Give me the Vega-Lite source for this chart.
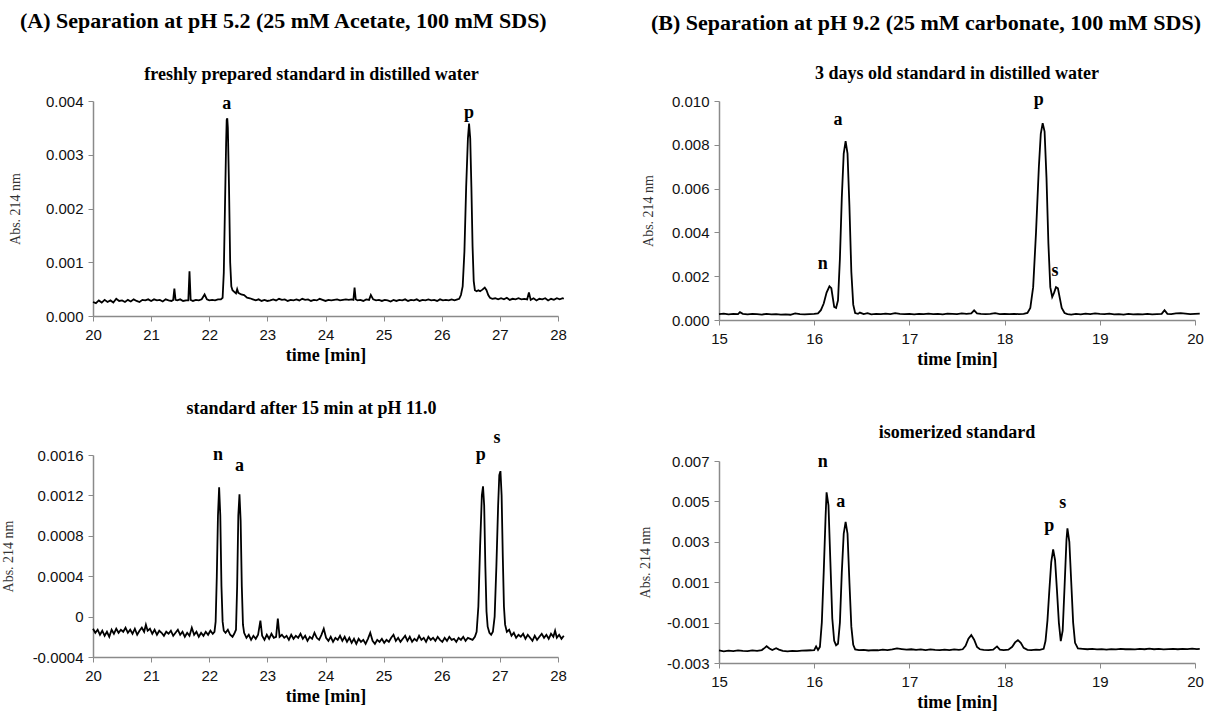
{
"$schema": "https://vega.github.io/schema/vega-lite/v6.json",
"background": "white",
"padding": {"left": 1, "top": 10, "right": 0, "bottom": 0},
"config": {
 "view": {"stroke": null},
 "axis": {"grid": false, "domainColor": "#8a8a8a", "domainWidth": 1.5, "tickColor": "#8a8a8a", "tickSize": 5, "labelFont": "Liberation Sans", "labelFontSize": 15, "labelColor": "#111"},
 "axisX": {"titleFont": "Liberation Serif", "titleFontWeight": "bold", "titleFontSize": 18, "titleColor": "#000", "labelPadding": 6, "titlePadding": 4, "labelFlush": false},
 "axisY": {"titleFont": "Liberation Serif", "titleFontWeight": "normal", "titleFontSize": 14, "titleColor": "#333", "labelPadding": 5},
 "title": {"font": "Liberation Serif", "fontWeight": "bold", "color": "#000"}
},
"datasets": {
 "a1": [
  {"t":20.00,"v":0.00026},{"t":20.05,"v":0.00024},{"t":20.10,"v":0.00029},{"t":20.15,"v":0.00025},{"t":20.20,"v":0.00030},{"t":20.25,"v":0.00026},{"t":20.30,"v":0.00029},{"t":20.35,"v":0.00025},{"t":20.40,"v":0.00032},{"t":20.45,"v":0.00028},{"t":20.50,"v":0.00029},{"t":20.55,"v":0.00026},{"t":20.60,"v":0.00030},{"t":20.65,"v":0.00027},{"t":20.70,"v":0.00031},{"t":20.75,"v":0.00028},{"t":20.80,"v":0.00026},{"t":20.85,"v":0.00030},{"t":20.90,"v":0.00029},{"t":20.95,"v":0.00031},{"t":21.00,"v":0.00028},{"t":21.05,"v":0.00031},{"t":21.10,"v":0.00029},{"t":21.15,"v":0.00030},{"t":21.20,"v":0.00027},{"t":21.25,"v":0.00031},{"t":21.30,"v":0.00029},{"t":21.35,"v":0.00028},{"t":21.38,"v":0.00030},{"t":21.40,"v":0.00051},{"t":21.42,"v":0.00030},{"t":21.45,"v":0.00029},{"t":21.50,"v":0.00031},{"t":21.55,"v":0.00028},{"t":21.60,"v":0.00029},{"t":21.64,"v":0.00029},{"t":21.66,"v":0.00083},{"t":21.68,"v":0.00030},{"t":21.72,"v":0.00028},{"t":21.77,"v":0.00030},{"t":21.82,"v":0.00029},{"t":21.87,"v":0.00031},{"t":21.92,"v":0.00040},{"t":21.96,"v":0.00031},{"t":22.00,"v":0.00029},{"t":22.05,"v":0.00030},{"t":22.10,"v":0.00029},{"t":22.15,"v":0.00031},{"t":22.20,"v":0.00031},{"t":22.23,"v":0.00034},{"t":22.25,"v":0.00080},{"t":22.27,"v":0.00200},{"t":22.29,"v":0.00320},{"t":22.30,"v":0.00365},{"t":22.31,"v":0.00368},{"t":22.32,"v":0.00350},{"t":22.34,"v":0.00240},{"t":22.36,"v":0.00100},{"t":22.38,"v":0.00055},{"t":22.40,"v":0.00048},{"t":22.43,"v":0.00045},{"t":22.46,"v":0.00042},{"t":22.48,"v":0.00050},{"t":22.50,"v":0.00043},{"t":22.55,"v":0.00040},{"t":22.60,"v":0.00039},{"t":22.65,"v":0.00034},{"t":22.70,"v":0.00033},{"t":22.75,"v":0.00031},{"t":22.80,"v":0.00029},{"t":22.85,"v":0.00031},{"t":22.90,"v":0.00028},{"t":22.95,"v":0.00030},{"t":23.00,"v":0.00028},{"t":23.05,"v":0.00029},{"t":23.10,"v":0.00031},{"t":23.15,"v":0.00029},{"t":23.20,"v":0.00032},{"t":23.25,"v":0.00030},{"t":23.30,"v":0.00031},{"t":23.35,"v":0.00028},{"t":23.40,"v":0.00030},{"t":23.45,"v":0.00029},{"t":23.50,"v":0.00031},{"t":23.55,"v":0.00029},{"t":23.60,"v":0.00032},{"t":23.65,"v":0.00030},{"t":23.70,"v":0.00031},{"t":23.75,"v":0.00028},{"t":23.80,"v":0.00030},{"t":23.85,"v":0.00029},{"t":23.90,"v":0.00032},{"t":23.95,"v":0.00030},{"t":24.00,"v":0.00028},{"t":24.05,"v":0.00030},{"t":24.10,"v":0.00029},{"t":24.15,"v":0.00030},{"t":24.20,"v":0.00031},{"t":24.25,"v":0.00029},{"t":24.30,"v":0.00030},{"t":24.35,"v":0.00031},{"t":24.40,"v":0.00030},{"t":24.45,"v":0.00031},{"t":24.48,"v":0.00030},{"t":24.50,"v":0.00053},{"t":24.52,"v":0.00031},{"t":24.55,"v":0.00029},{"t":24.60,"v":0.00030},{"t":24.65,"v":0.00028},{"t":24.70,"v":0.00031},{"t":24.75,"v":0.00030},{"t":24.78,"v":0.00039},{"t":24.82,"v":0.00031},{"t":24.87,"v":0.00029},{"t":24.92,"v":0.00030},{"t":24.97,"v":0.00028},{"t":25.02,"v":0.00030},{"t":25.07,"v":0.00029},{"t":25.12,"v":0.00027},{"t":25.17,"v":0.00030},{"t":25.22,"v":0.00028},{"t":25.27,"v":0.00030},{"t":25.32,"v":0.00029},{"t":25.37,"v":0.00031},{"t":25.42,"v":0.00028},{"t":25.47,"v":0.00030},{"t":25.52,"v":0.00029},{"t":25.57,"v":0.00031},{"t":25.62,"v":0.00028},{"t":25.67,"v":0.00030},{"t":25.72,"v":0.00029},{"t":25.77,"v":0.00031},{"t":25.82,"v":0.00029},{"t":25.87,"v":0.00030},{"t":25.92,"v":0.00028},{"t":25.97,"v":0.00031},{"t":26.02,"v":0.00029},{"t":26.07,"v":0.00030},{"t":26.12,"v":0.00029},{"t":26.17,"v":0.00031},{"t":26.22,"v":0.00029},{"t":26.27,"v":0.00031},{"t":26.30,"v":0.00032},{"t":26.33,"v":0.00039},{"t":26.36,"v":0.00055},{"t":26.39,"v":0.00120},{"t":26.42,"v":0.00240},{"t":26.45,"v":0.00330},{"t":26.47,"v":0.00358},{"t":26.49,"v":0.00330},{"t":26.51,"v":0.00240},{"t":26.53,"v":0.00130},{"t":26.55,"v":0.00065},{"t":26.57,"v":0.00048},{"t":26.60,"v":0.00046},{"t":26.63,"v":0.00048},{"t":26.66,"v":0.00046},{"t":26.70,"v":0.00049},{"t":26.74,"v":0.00053},{"t":26.77,"v":0.00048},{"t":26.80,"v":0.00039},{"t":26.83,"v":0.00034},{"t":26.87,"v":0.00032},{"t":26.92,"v":0.00033},{"t":26.97,"v":0.00031},{"t":27.02,"v":0.00033},{"t":27.07,"v":0.00031},{"t":27.12,"v":0.00034},{"t":27.17,"v":0.00030},{"t":27.22,"v":0.00032},{"t":27.27,"v":0.00031},{"t":27.32,"v":0.00033},{"t":27.37,"v":0.00031},{"t":27.42,"v":0.00032},{"t":27.47,"v":0.00031},{"t":27.50,"v":0.00044},{"t":27.53,"v":0.00030},{"t":27.58,"v":0.00033},{"t":27.63,"v":0.00029},{"t":27.68,"v":0.00032},{"t":27.73,"v":0.00031},{"t":27.78,"v":0.00033},{"t":27.83,"v":0.00029},{"t":27.88,"v":0.00032},{"t":27.93,"v":0.00030},{"t":27.98,"v":0.00033},{"t":28.03,"v":0.00031},{"t":28.08,"v":0.00033},{"t":28.10,"v":0.00032}
 ],
 "a1lab": [{"t":22.30,"v":0.00394,"lab":"a"},{"t":26.47,"v":0.00378,"lab":"p"}],
 "a2": [
  {"t":20.00,"v":-0.00012},{"t":20.04,"v":-0.00016},{"t":20.08,"v":-0.00013},{"t":20.12,"v":-0.00018},{"t":20.16,"v":-0.00014},{"t":20.20,"v":-0.00019},{"t":20.24,"v":-0.00015},{"t":20.28,"v":-0.00020},{"t":20.32,"v":-0.00013},{"t":20.36,"v":-0.00017},{"t":20.40,"v":-0.00012},{"t":20.44,"v":-0.00016},{"t":20.48,"v":-0.00013},{"t":20.52,"v":-0.00015},{"t":20.56,"v":-0.00011},{"t":20.60,"v":-0.00016},{"t":20.64,"v":-0.00013},{"t":20.68,"v":-0.00017},{"t":20.72,"v":-0.00012},{"t":20.76,"v":-0.00018},{"t":20.80,"v":-0.00014},{"t":20.84,"v":-0.00011},{"t":20.88,"v":-0.00015},{"t":20.91,"v":-0.00008},{"t":20.94,"v":-0.00014},{"t":20.98,"v":-0.00012},{"t":21.02,"v":-0.00017},{"t":21.06,"v":-0.00013},{"t":21.10,"v":-0.00018},{"t":21.14,"v":-0.00014},{"t":21.18,"v":-0.00016},{"t":21.22,"v":-0.00019},{"t":21.26,"v":-0.00015},{"t":21.30,"v":-0.00017},{"t":21.34,"v":-0.00014},{"t":21.38,"v":-0.00019},{"t":21.42,"v":-0.00016},{"t":21.46,"v":-0.00013},{"t":21.50,"v":-0.00018},{"t":21.54,"v":-0.00015},{"t":21.58,"v":-0.00020},{"t":21.62,"v":-0.00016},{"t":21.66,"v":-0.00019},{"t":21.70,"v":-0.00011},{"t":21.74,"v":-0.00018},{"t":21.78,"v":-0.00015},{"t":21.82,"v":-0.00020},{"t":21.86,"v":-0.00016},{"t":21.90,"v":-0.00019},{"t":21.94,"v":-0.00015},{"t":21.98,"v":-0.00018},{"t":22.02,"v":-0.00014},{"t":22.06,"v":-0.00017},{"t":22.09,"v":-0.00015},{"t":22.11,"v":-0.00005},{"t":22.13,"v":0.00040},{"t":22.15,"v":0.00100},{"t":22.17,"v":0.00128},{"t":22.19,"v":0.00100},{"t":22.21,"v":0.00030},{"t":22.23,"v":-0.00005},{"t":22.25,"v":-0.00014},{"t":22.28,"v":-0.00016},{"t":22.32,"v":-0.00013},{"t":22.36,"v":-0.00018},{"t":22.40,"v":-0.00020},{"t":22.43,"v":-0.00017},{"t":22.46,"v":-0.00013},{"t":22.48,"v":0.00030},{"t":22.50,"v":0.00100},{"t":22.52,"v":0.00121},{"t":22.54,"v":0.00095},{"t":22.56,"v":0.00030},{"t":22.58,"v":-0.00008},{"t":22.60,"v":-0.00016},{"t":22.64,"v":-0.00021},{"t":22.68,"v":-0.00018},{"t":22.72,"v":-0.00023},{"t":22.76,"v":-0.00019},{"t":22.80,"v":-0.00022},{"t":22.84,"v":-0.00018},{"t":22.88,"v":-0.00004},{"t":22.91,"v":-0.00019},{"t":22.95,"v":-0.00023},{"t":22.99,"v":-0.00018},{"t":23.03,"v":-0.00022},{"t":23.07,"v":-0.00017},{"t":23.11,"v":-0.00021},{"t":23.15,"v":-0.00020},{"t":23.18,"v":-0.00002},{"t":23.21,"v":-0.00020},{"t":23.25,"v":-0.00018},{"t":23.29,"v":-0.00021},{"t":23.33,"v":-0.00019},{"t":23.37,"v":-0.00023},{"t":23.41,"v":-0.00018},{"t":23.45,"v":-0.00022},{"t":23.49,"v":-0.00019},{"t":23.53,"v":-0.00021},{"t":23.57,"v":-0.00017},{"t":23.61,"v":-0.00022},{"t":23.65,"v":-0.00019},{"t":23.69,"v":-0.00024},{"t":23.73,"v":-0.00020},{"t":23.77,"v":-0.00022},{"t":23.81,"v":-0.00016},{"t":23.85,"v":-0.00021},{"t":23.89,"v":-0.00023},{"t":23.93,"v":-0.00018},{"t":23.97,"v":-0.00012},{"t":24.01,"v":-0.00021},{"t":24.05,"v":-0.00024},{"t":24.09,"v":-0.00020},{"t":24.13,"v":-0.00025},{"t":24.17,"v":-0.00021},{"t":24.21,"v":-0.00023},{"t":24.25,"v":-0.00019},{"t":24.29,"v":-0.00024},{"t":24.33,"v":-0.00020},{"t":24.37,"v":-0.00025},{"t":24.41,"v":-0.00021},{"t":24.45,"v":-0.00026},{"t":24.49,"v":-0.00022},{"t":24.53,"v":-0.00027},{"t":24.57,"v":-0.00022},{"t":24.61,"v":-0.00025},{"t":24.65,"v":-0.00023},{"t":24.69,"v":-0.00027},{"t":24.73,"v":-0.00022},{"t":24.77,"v":-0.00016},{"t":24.81,"v":-0.00024},{"t":24.85,"v":-0.00027},{"t":24.89,"v":-0.00023},{"t":24.93,"v":-0.00025},{"t":24.97,"v":-0.00022},{"t":25.01,"v":-0.00026},{"t":25.05,"v":-0.00023},{"t":25.09,"v":-0.00025},{"t":25.13,"v":-0.00021},{"t":25.17,"v":-0.00018},{"t":25.21,"v":-0.00024},{"t":25.25,"v":-0.00021},{"t":25.29,"v":-0.00025},{"t":25.33,"v":-0.00022},{"t":25.37,"v":-0.00019},{"t":25.41,"v":-0.00024},{"t":25.45,"v":-0.00020},{"t":25.49,"v":-0.00025},{"t":25.53,"v":-0.00022},{"t":25.57,"v":-0.00024},{"t":25.61,"v":-0.00019},{"t":25.65,"v":-0.00023},{"t":25.69,"v":-0.00021},{"t":25.73,"v":-0.00025},{"t":25.77,"v":-0.00020},{"t":25.81,"v":-0.00023},{"t":25.85,"v":-0.00021},{"t":25.89,"v":-0.00024},{"t":25.93,"v":-0.00020},{"t":25.97,"v":-0.00023},{"t":26.01,"v":-0.00025},{"t":26.05,"v":-0.00021},{"t":26.09,"v":-0.00024},{"t":26.13,"v":-0.00020},{"t":26.17,"v":-0.00023},{"t":26.21,"v":-0.00022},{"t":26.25,"v":-0.00025},{"t":26.29,"v":-0.00021},{"t":26.33,"v":-0.00023},{"t":26.37,"v":-0.00020},{"t":26.41,"v":-0.00024},{"t":26.45,"v":-0.00021},{"t":26.49,"v":-0.00022},{"t":26.53,"v":-0.00023},{"t":26.57,"v":-0.00020},{"t":26.60,"v":-0.00015},{"t":26.63,"v":0.00010},{"t":26.66,"v":0.00070},{"t":26.69,"v":0.00120},{"t":26.71,"v":0.00129},{"t":26.73,"v":0.00110},{"t":26.75,"v":0.00050},{"t":26.77,"v":0.00005},{"t":26.79,"v":-0.00010},{"t":26.82,"v":-0.00016},{"t":26.85,"v":-0.00018},{"t":26.88,"v":-0.00015},{"t":26.91,"v":0.00000},{"t":26.94,"v":0.00050},{"t":26.97,"v":0.00110},{"t":26.99,"v":0.00140},{"t":27.01,"v":0.00144},{"t":27.03,"v":0.00120},{"t":27.05,"v":0.00060},{"t":27.07,"v":0.00010},{"t":27.09,"v":-0.00008},{"t":27.12,"v":-0.00015},{"t":27.16,"v":-0.00013},{"t":27.20,"v":-0.00019},{"t":27.24,"v":-0.00016},{"t":27.28,"v":-0.00021},{"t":27.32,"v":-0.00018},{"t":27.36,"v":-0.00020},{"t":27.40,"v":-0.00017},{"t":27.44,"v":-0.00022},{"t":27.48,"v":-0.00018},{"t":27.52,"v":-0.00021},{"t":27.56,"v":-0.00024},{"t":27.60,"v":-0.00019},{"t":27.64,"v":-0.00023},{"t":27.68,"v":-0.00020},{"t":27.72,"v":-0.00017},{"t":27.76,"v":-0.00021},{"t":27.80,"v":-0.00018},{"t":27.84,"v":-0.00022},{"t":27.88,"v":-0.00017},{"t":27.92,"v":-0.00020},{"t":27.95,"v":-0.00014},{"t":27.98,"v":-0.00021},{"t":28.02,"v":-0.00018},{"t":28.06,"v":-0.00022},{"t":28.10,"v":-0.00019}
 ],
 "a2lab": [{"t":22.15,"v":0.0016,"lab":"n"},{"t":22.52,"v":0.00149,"lab":"a"},{"t":26.67,"v":0.0016,"lab":"p"},{"t":26.95,"v":0.00177,"lab":"s"}],
 "b1": [
  {"t":15.00,"v":0.00027},{"t":15.05,"v":0.00029},{"t":15.10,"v":0.00026},{"t":15.15,"v":0.00028},{"t":15.20,"v":0.00027},{"t":15.22,"v":0.00036},{"t":15.25,"v":0.00028},{"t":15.30,"v":0.00026},{"t":15.35,"v":0.00028},{"t":15.40,"v":0.00027},{"t":15.45,"v":0.00025},{"t":15.50,"v":0.00028},{"t":15.55,"v":0.00026},{"t":15.60,"v":0.00027},{"t":15.65,"v":0.00025},{"t":15.70,"v":0.00026},{"t":15.75,"v":0.00024},{"t":15.80,"v":0.00030},{"t":15.85,"v":0.00027},{"t":15.90,"v":0.00026},{"t":15.95,"v":0.00027},{"t":16.00,"v":0.00028},{"t":16.04,"v":0.00030},{"t":16.07,"v":0.00045},{"t":16.10,"v":0.00075},{"t":16.13,"v":0.00125},{"t":16.16,"v":0.00154},{"t":16.18,"v":0.00145},{"t":16.21,"v":0.00060},{"t":16.23,"v":0.00055},{"t":16.25,"v":0.00090},{"t":16.27,"v":0.00280},{"t":16.29,"v":0.00560},{"t":16.31,"v":0.00760},{"t":16.33,"v":0.00817},{"t":16.35,"v":0.00760},{"t":16.37,"v":0.00520},{"t":16.39,"v":0.00220},{"t":16.41,"v":0.00070},{"t":16.43,"v":0.00032},{"t":16.46,"v":0.00028},{"t":16.48,"v":0.00034},{"t":16.52,"v":0.00027},{"t":16.56,"v":0.00031},{"t":16.60,"v":0.00026},{"t":16.65,"v":0.00028},{"t":16.70,"v":0.00027},{"t":16.75,"v":0.00029},{"t":16.80,"v":0.00027},{"t":16.85,"v":0.00031},{"t":16.90,"v":0.00028},{"t":16.95,"v":0.00027},{"t":17.00,"v":0.00028},{"t":17.05,"v":0.00026},{"t":17.10,"v":0.00028},{"t":17.15,"v":0.00027},{"t":17.20,"v":0.00029},{"t":17.25,"v":0.00027},{"t":17.30,"v":0.00028},{"t":17.35,"v":0.00026},{"t":17.40,"v":0.00029},{"t":17.45,"v":0.00028},{"t":17.50,"v":0.00027},{"t":17.55,"v":0.00030},{"t":17.60,"v":0.00028},{"t":17.65,"v":0.00030},{"t":17.68,"v":0.00044},{"t":17.71,"v":0.00030},{"t":17.75,"v":0.00028},{"t":17.80,"v":0.00027},{"t":17.85,"v":0.00028},{"t":17.90,"v":0.00031},{"t":17.95,"v":0.00027},{"t":18.00,"v":0.00028},{"t":18.05,"v":0.00027},{"t":18.10,"v":0.00028},{"t":18.15,"v":0.00027},{"t":18.20,"v":0.00028},{"t":18.24,"v":0.00032},{"t":18.27,"v":0.00055},{"t":18.30,"v":0.00150},{"t":18.33,"v":0.00400},{"t":18.36,"v":0.00700},{"t":18.38,"v":0.00850},{"t":18.40,"v":0.00899},{"t":18.42,"v":0.00860},{"t":18.44,"v":0.00650},{"t":18.46,"v":0.00350},{"t":18.48,"v":0.00150},{"t":18.50,"v":0.00105},{"t":18.52,"v":0.00125},{"t":18.54,"v":0.00150},{"t":18.56,"v":0.00145},{"t":18.58,"v":0.00100},{"t":18.60,"v":0.00055},{"t":18.63,"v":0.00032},{"t":18.66,"v":0.00027},{"t":18.70,"v":0.00025},{"t":18.75,"v":0.00028},{"t":18.80,"v":0.00026},{"t":18.85,"v":0.00029},{"t":18.90,"v":0.00027},{"t":18.95,"v":0.00030},{"t":19.00,"v":0.00028},{"t":19.05,"v":0.00027},{"t":19.10,"v":0.00029},{"t":19.15,"v":0.00026},{"t":19.20,"v":0.00027},{"t":19.25,"v":0.00025},{"t":19.30,"v":0.00028},{"t":19.35,"v":0.00026},{"t":19.40,"v":0.00027},{"t":19.45,"v":0.00026},{"t":19.50,"v":0.00028},{"t":19.55,"v":0.00026},{"t":19.60,"v":0.00027},{"t":19.65,"v":0.00028},{"t":19.68,"v":0.00045},{"t":19.71,"v":0.00028},{"t":19.75,"v":0.00027},{"t":19.80,"v":0.00030},{"t":19.85,"v":0.00031},{"t":19.90,"v":0.00029},{"t":19.95,"v":0.00027},{"t":20.00,"v":0.00028},{"t":20.05,"v":0.00029}
 ],
 "b1lab": [{"t":16.09,"v":0.00256,"lab":"n"},{"t":16.25,"v":0.00912,"lab":"a"},{"t":18.36,"v":0.01006,"lab":"p"},{"t":18.53,"v":0.00223,"lab":"s"}],
 "b2": [
  {"t":15.00,"v":-0.00238},{"t":15.05,"v":-0.00242},{"t":15.10,"v":-0.00239},{"t":15.15,"v":-0.00241},{"t":15.20,"v":-0.00238},{"t":15.25,"v":-0.00240},{"t":15.30,"v":-0.00241},{"t":15.35,"v":-0.00238},{"t":15.40,"v":-0.00240},{"t":15.45,"v":-0.00236},{"t":15.48,"v":-0.00225},{"t":15.50,"v":-0.00217},{"t":15.53,"v":-0.00228},{"t":15.56,"v":-0.00236},{"t":15.60,"v":-0.00227},{"t":15.63,"v":-0.00234},{"t":15.67,"v":-0.00240},{"t":15.72,"v":-0.00242},{"t":15.77,"v":-0.00240},{"t":15.82,"v":-0.00241},{"t":15.87,"v":-0.00239},{"t":15.92,"v":-0.00238},{"t":15.97,"v":-0.00237},{"t":16.00,"v":-0.00236},{"t":16.02,"v":-0.00218},{"t":16.04,"v":-0.00235},{"t":16.06,"v":-0.00220},{"t":16.08,"v":-0.00100},{"t":16.10,"v":0.00150},{"t":16.12,"v":0.00430},{"t":16.13,"v":0.00545},{"t":16.15,"v":0.00480},{"t":16.17,"v":0.00200},{"t":16.19,"v":-0.00080},{"t":16.21,"v":-0.00190},{"t":16.23,"v":-0.00212},{"t":16.25,"v":-0.00205},{"t":16.27,"v":-0.00100},{"t":16.29,"v":0.00150},{"t":16.31,"v":0.00340},{"t":16.33,"v":0.00399},{"t":16.35,"v":0.00340},{"t":16.37,"v":0.00100},{"t":16.39,"v":-0.00120},{"t":16.41,"v":-0.00210},{"t":16.43,"v":-0.00233},{"t":16.47,"v":-0.00236},{"t":16.52,"v":-0.00235},{"t":16.57,"v":-0.00238},{"t":16.62,"v":-0.00236},{"t":16.67,"v":-0.00237},{"t":16.72,"v":-0.00234},{"t":16.77,"v":-0.00236},{"t":16.82,"v":-0.00233},{"t":16.87,"v":-0.00228},{"t":16.92,"v":-0.00231},{"t":16.97,"v":-0.00234},{"t":17.02,"v":-0.00232},{"t":17.07,"v":-0.00235},{"t":17.12,"v":-0.00233},{"t":17.17,"v":-0.00236},{"t":17.22,"v":-0.00233},{"t":17.27,"v":-0.00235},{"t":17.32,"v":-0.00236},{"t":17.37,"v":-0.00234},{"t":17.42,"v":-0.00236},{"t":17.47,"v":-0.00233},{"t":17.52,"v":-0.00235},{"t":17.56,"v":-0.00232},{"t":17.59,"v":-0.00215},{"t":17.62,"v":-0.00180},{"t":17.65,"v":-0.00162},{"t":17.68,"v":-0.00185},{"t":17.71,"v":-0.00220},{"t":17.74,"v":-0.00232},{"t":17.78,"v":-0.00235},{"t":17.83,"v":-0.00236},{"t":17.88,"v":-0.00234},{"t":17.92,"v":-0.00218},{"t":17.95,"v":-0.00234},{"t":17.99,"v":-0.00236},{"t":18.04,"v":-0.00234},{"t":18.08,"v":-0.00220},{"t":18.11,"v":-0.00198},{"t":18.14,"v":-0.00187},{"t":18.17,"v":-0.00200},{"t":18.20,"v":-0.00225},{"t":18.24,"v":-0.00235},{"t":18.28,"v":-0.00236},{"t":18.33,"v":-0.00234},{"t":18.37,"v":-0.00235},{"t":18.41,"v":-0.00230},{"t":18.43,"v":-0.00190},{"t":18.45,"v":-0.00090},{"t":18.47,"v":0.00060},{"t":18.49,"v":0.00200},{"t":18.51,"v":0.00262},{"t":18.53,"v":0.00210},{"t":18.55,"v":0.00060},{"t":18.57,"v":-0.00100},{"t":18.59,"v":-0.00192},{"t":18.61,"v":-0.00140},{"t":18.63,"v":0.00080},{"t":18.65,"v":0.00310},{"t":18.66,"v":0.00367},{"t":18.68,"v":0.00300},{"t":18.70,"v":0.00100},{"t":18.72,"v":-0.00100},{"t":18.74,"v":-0.00200},{"t":18.77,"v":-0.00228},{"t":18.82,"v":-0.00230},{"t":18.87,"v":-0.00232},{"t":18.92,"v":-0.00230},{"t":18.97,"v":-0.00233},{"t":19.02,"v":-0.00231},{"t":19.07,"v":-0.00234},{"t":19.12,"v":-0.00231},{"t":19.17,"v":-0.00233},{"t":19.22,"v":-0.00230},{"t":19.27,"v":-0.00232},{"t":19.32,"v":-0.00231},{"t":19.37,"v":-0.00233},{"t":19.42,"v":-0.00230},{"t":19.47,"v":-0.00232},{"t":19.52,"v":-0.00229},{"t":19.57,"v":-0.00232},{"t":19.62,"v":-0.00230},{"t":19.67,"v":-0.00233},{"t":19.72,"v":-0.00231},{"t":19.77,"v":-0.00230},{"t":19.82,"v":-0.00232},{"t":19.87,"v":-0.00230},{"t":19.92,"v":-0.00231},{"t":19.97,"v":-0.00229},{"t":20.02,"v":-0.00231},{"t":20.05,"v":-0.00230}
 ],
 "b2lab": [{"t":16.09,"v":0.00695,"lab":"n"},{"t":16.28,"v":0.00495,"lab":"a"},{"t":18.47,"v":0.00376,"lab":"p"},{"t":18.61,"v":0.00492,"lab":"s"}]
},
"spacing": 70,
"hconcat": [
 {
  "title": {"text": "(A) Separation at pH 5.2 (25 mM Acetate, 100 mM SDS)", "anchor": "start", "fontSize": 22, "offset": 33, "dx": 19},
  "spacing": 35,
  "vconcat": [
   {
    "width": 465, "height": 215,
    "title": {"text": "freshly prepared standard in distilled water", "fontSize": 18, "offset": 10, "dx": -14},
    "layer": [
     {"data": {"name": "a1"}, "mark": {"type": "line", "color": "#000", "strokeWidth": 1.8, "clip": false},
      "encoding": {
       "x": {"field": "t", "type": "quantitative", "scale": {"domain": [20, 28], "nice": false, "zero": false}, "axis": {"values": [20,21,22,23,24,25,26,27,28], "format": "d", "title": "time [min]"}},
       "y": {"field": "v", "type": "quantitative", "scale": {"domain": [0, 0.004], "nice": false, "zero": false}, "axis": {"values": [0,0.001,0.002,0.003,0.004], "format": ".3f", "title": "Abs. 214 nm", "titleX": -71}}
      }},
     {"data": {"name": "a1lab"}, "mark": {"type": "text", "font": "Liberation Serif", "fontWeight": "bold", "fontSize": 18, "baseline": "middle", "color": "#000"},
      "encoding": {"x": {"field": "t", "type": "quantitative"}, "y": {"field": "v", "type": "quantitative"}, "text": {"field": "lab"}}}
    ]
   },
   {
    "width": 465, "height": 202,
    "title": {"text": "standard after 15 min at pH 11.0", "fontSize": 18, "offset": 11, "dx": -14},
    "layer": [
     {"data": {"name": "a2"}, "mark": {"type": "line", "color": "#000", "strokeWidth": 1.8, "clip": false},
      "encoding": {
       "x": {"field": "t", "type": "quantitative", "scale": {"domain": [20, 28], "nice": false, "zero": false}, "axis": {"values": [20,21,22,23,24,25,26,27,28], "format": "d", "title": "time [min]"}},
       "y": {"field": "v", "type": "quantitative", "scale": {"domain": [-0.0004, 0.0016], "nice": false, "zero": false}, "axis": {"values": [-0.0004,0,0.0004,0.0008,0.0012,0.0016], "labelExpr": "datum.value == 0 ? '0' : (datum.value < 0 ? '-' : '') + format(abs(datum.value), '.4f')", "title": "Abs. 214 nm", "titleX": -78}}
      }},
     {"data": {"name": "a2lab"}, "mark": {"type": "text", "font": "Liberation Serif", "fontWeight": "bold", "fontSize": 18, "baseline": "middle", "color": "#000"},
      "encoding": {"x": {"field": "t", "type": "quantitative"}, "y": {"field": "v", "type": "quantitative"}, "text": {"field": "lab"}}}
    ]
   }
  ]
 },
 {
  "title": {"text": "(B) Separation at pH 9.2 (25 mM carbonate, 100 mM SDS)", "anchor": "start", "fontSize": 22, "offset": 30, "dx": 13},
  "spacing": 56,
  "vconcat": [
   {
    "width": 476, "height": 219,
    "title": {"text": "3 days old standard in distilled water", "fontSize": 18, "offset": 8},
    "layer": [
     {"data": {"name": "b1"}, "mark": {"type": "line", "color": "#000", "strokeWidth": 1.8, "clip": false},
      "encoding": {
       "x": {"field": "t", "type": "quantitative", "scale": {"domain": [15, 20], "nice": false, "zero": false}, "axis": {"values": [15,16,17,18,19,20], "format": "d", "title": "time [min]"}},
       "y": {"field": "v", "type": "quantitative", "scale": {"domain": [0, 0.01], "nice": false, "zero": false}, "axis": {"values": [0,0.002,0.004,0.006,0.008,0.01], "format": ".3f", "title": "Abs. 214 nm", "titleX": -64}}
      }},
     {"data": {"name": "b1lab"}, "mark": {"type": "text", "font": "Liberation Serif", "fontWeight": "bold", "fontSize": 18, "baseline": "middle", "color": "#000"},
      "encoding": {"x": {"field": "t", "type": "quantitative"}, "y": {"field": "v", "type": "quantitative"}, "text": {"field": "lab"}}}
    ]
   },
   {
    "width": 476, "height": 202,
    "title": {"text": "isomerized standard", "fontSize": 18, "offset": 11},
    "layer": [
     {"data": {"name": "b2"}, "mark": {"type": "line", "color": "#000", "strokeWidth": 1.8, "clip": false},
      "encoding": {
       "x": {"field": "t", "type": "quantitative", "scale": {"domain": [15, 20], "nice": false, "zero": false}, "axis": {"values": [15,16,17,18,19,20], "format": "d", "title": "time [min]"}},
       "y": {"field": "v", "type": "quantitative", "scale": {"domain": [-0.003, 0.007], "nice": false, "zero": false}, "axis": {"values": [-0.003,-0.001,0.001,0.003,0.005,0.007], "labelExpr": "(datum.value < 0 ? '-' : '') + format(abs(datum.value), '.3f')", "title": "Abs. 214 nm", "titleX": -67}}
      }},
     {"data": {"name": "b2lab"}, "mark": {"type": "text", "font": "Liberation Serif", "fontWeight": "bold", "fontSize": 18, "baseline": "middle", "color": "#000"},
      "encoding": {"x": {"field": "t", "type": "quantitative"}, "y": {"field": "v", "type": "quantitative"}, "text": {"field": "lab"}}}
    ]
   }
  ]
 }
]
}
